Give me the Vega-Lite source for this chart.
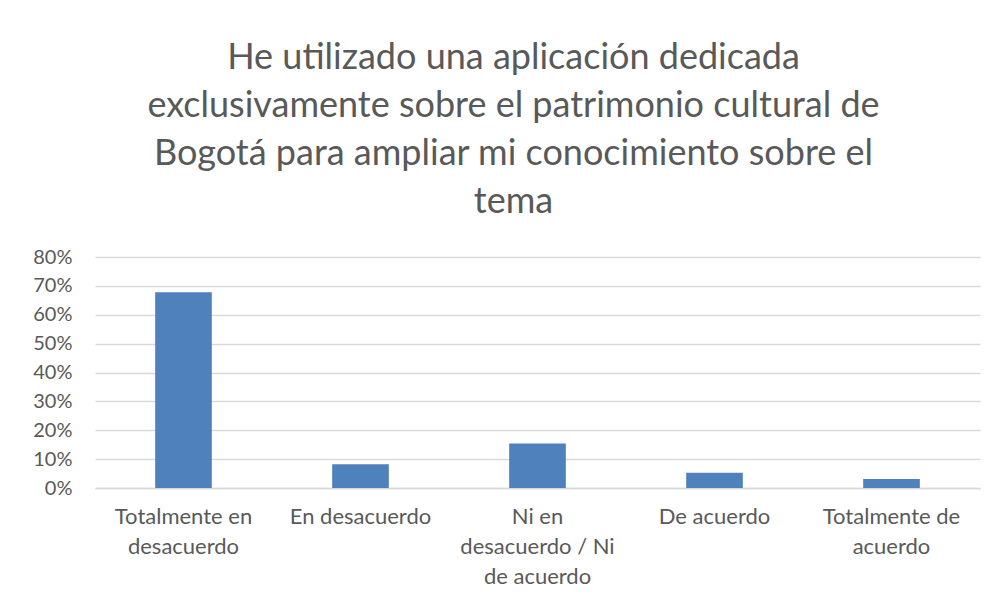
{
  "$schema": "https://vega.github.io/schema/vega-lite/v6.json",
  "width": 885,
  "height": 231,
  "padding": {"left": 32, "top": 40, "right": 20, "bottom": 5},
  "background": "white",
  "title": {
    "text": ["He utilizado una aplicación dedicada", "exclusivamente sobre el patrimonio cultural de", "Bogotá para ampliar mi conocimiento sobre el", "tema"],
    "font": "Lato",
    "fontSize": 36,
    "fontWeight": "normal",
    "color": "#595959",
    "lineHeight": 48,
    "anchor": "middle",
    "frame": "group",
    "dx": -24,
    "offset": 26
  },
  "data": {
    "values": [
      {"respuesta": "Totalmente en desacuerdo", "porcentaje": 0.678},
      {"respuesta": "En desacuerdo", "porcentaje": 0.082},
      {"respuesta": "Ni en desacuerdo / Ni de acuerdo", "porcentaje": 0.154},
      {"respuesta": "De acuerdo", "porcentaje": 0.053},
      {"respuesta": "Totalmente de acuerdo", "porcentaje": 0.031}
    ]
  },
  "mark": {"type": "bar", "color": "#4F81BD"},
  "encoding": {
    "x": {
      "field": "respuesta",
      "type": "nominal",
      "sort": null,
      "title": null,
      "scale": {"paddingInner": 0.68, "paddingOuter": 0.34},
      "axis": {
        "labelAngle": 0,
        "domain": true,
        "domainColor": "#D9D9D9",
        "domainWidth": 1.5,
        "ticks": false,
        "labelFont": "Lato",
        "labelFontSize": 22,
        "labelColor": "#595959",
        "labelPadding": 18,
        "labelBaseline": "top",
        "labelLineHeight": 30,
        "labelLimit": 300,
        "labelExpr": "datum.value == 'Totalmente en desacuerdo' ? ['Totalmente en', 'desacuerdo'] : datum.value == 'Ni en desacuerdo / Ni de acuerdo' ? ['Ni en', 'desacuerdo /  Ni', 'de acuerdo'] : datum.value == 'Totalmente de acuerdo' ? ['Totalmente de', 'acuerdo'] : datum.value"
      }
    },
    "y": {
      "field": "porcentaje",
      "type": "quantitative",
      "title": null,
      "scale": {"domain": [0, 0.8]},
      "axis": {
        "format": ".0%",
        "values": [0, 0.1, 0.2, 0.3, 0.4, 0.5, 0.6, 0.7, 0.8],
        "labelOverlap": false,
        "domain": false,
        "ticks": false,
        "labelFont": "Lato",
        "labelFontSize": 20,
        "labelColor": "#595959",
        "labelPadding": 23,
        "gridColor": "#D9D9D9",
        "gridWidth": 1.5
      }
    }
  },
  "config": {
    "view": {"stroke": null}
  }
}
